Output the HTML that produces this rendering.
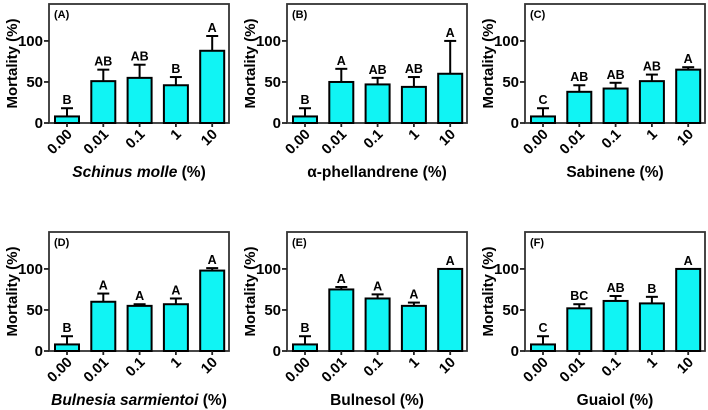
<!DOCTYPE html>
<html><head><meta charset="utf-8">
<style>
html,body{margin:0;padding:0;background:#fff;}
svg{display:block;font-family:"Liberation Sans",Arial,sans-serif;}
</style></head>
<body>
<svg id="fig" width="708" height="410" viewBox="0 0 708 410"></svg>
<script>
const categories = ["0.00","0.01","0.1","1","10"];
const yTicks = [0,50,100];
const yMax = 145;
const panelLabels = ["(A)","(B)","(C)","(D)","(E)","(F)"];
const xTitles = ["Schinus molle","α-phellandrene","Sabinene","Bulnesia sarmientoi","Bulnesol","Guaiol"];
const xItalic = [true,false,false,true,false,false];
const meansA = [8,51,55,46,88];
const errsA = [10,14,16,10,18];
const letA = ["B","AB","AB","B","A"];
const meansB = [8,50,47,44,60];
const errsB = [10,16,8,12,40];
const letB = ["B","A","AB","AB","A"];
const meansC = [8,38,42,51,65];
const errsC = [10,8,7,8,3];
const letC = ["C","AB","AB","AB","A"];
const meansD = [8,60,55,57,98];
const errsD = [10,10,2,7,3];
const letD = ["B","A","A","A","A"];
const meansE = [8,75,64,55,100];
const errsE = [10,3,5,4,0];
const letE = ["B","A","A","A","A"];
const meansF = [8,52,61,58,100];
const errsF = [10,5,6,8,0];
const letF = ["C","BC","AB","B","A"];

const means = [meansA,meansB,meansC,meansD,meansE,meansF];
const errs = [errsA,errsB,errsC,errsD,errsE,errsF];
const lets = [letA,letB,letC,letD,letE,letF];

const NS="http://www.w3.org/2000/svg";
const svg=document.getElementById('fig');
function mk(tag,attrs,parent){const e=document.createElementNS(NS,tag);for(const k in attrs)e.setAttribute(k,attrs[k]);(parent||svg).appendChild(e);return e;}

const lefts=[49,287,525];
const tops=[4,232];
const W=180,H=119;

for(let p=0;p<6;p++){
  const L=lefts[p%3], T=tops[Math.floor(p/3)], B=T+H;
  const g=mk('g',{});
  
  
  const y=v=>B-v/yMax*H;
  const x=i=>L+18+i*36.3;
  const fr=mk('rect',{x:L,y:T,width:W,height:H,fill:'none',stroke:'#333',"stroke-width":1.8},g);
  
  
  const pl=mk('text',{x:L+5,y:T+14,"font-size":11,"font-weight":"bold"},g);
  pl.textContent=panelLabels[p];
  
  
  yTicks.forEach(t=>{
    mk('line',{x1:L-5,x2:L,y1:y(t),y2:y(t),stroke:'#222',"stroke-width":1.8},g);
    const tl=mk('text',{x:L-6,y:y(t)+5,"font-size":15,"font-weight":"bold","text-anchor":"end"},g);
    tl.textContent=t;
    
    
  });
  const yt=mk('text',{x:0,y:0,"font-size":15,"font-weight":"bold","text-anchor":"middle",transform:`translate(${L-32},${T+H/2}) rotate(-90)`},g);
  yt.textContent='Mortality (%)';
  
  
  categories.forEach((c,i)=>{
    const cx=x(i), m=means[p][i], e=errs[p][i];
    if(e>0){
      mk('line',{x1:cx,x2:cx,y1:y(m),y2:y(m+e),stroke:'#000',"stroke-width":2},g);
      mk('line',{x1:cx-6,x2:cx+6,y1:y(m+e),y2:y(m+e),stroke:'#000',"stroke-width":2},g);
    }
    const bar=mk('rect',{x:cx-12,y:y(m),width:24,height:B-y(m),fill:'#10F4F4',stroke:'#000',"stroke-width":2},g);
    
    
    const lt=mk('text',{x:cx,y:y(m+e)-4,"font-size":12.5,"font-weight":"bold","text-anchor":"middle"},g);
    lt.textContent=lets[p][i];
    
    
    mk('line',{x1:cx,x2:cx,y1:B,y2:B+4,stroke:'#222',"stroke-width":1.8},g);
    const xl=mk('text',{x:0,y:0,"font-size":14.5,"font-weight":"bold","text-anchor":"end",transform:`translate(${cx+6},${B+12}) rotate(-45)`},g);
    xl.textContent=c;
    
    
  });
  const xt=mk('text',{x:L+W/2,y:B+54,"font-size":15.5,"font-weight":"bold","text-anchor":"middle"},g);
  if(xItalic[p]){const s=mk('tspan',{"font-style":"italic"},xt);s.textContent=xTitles[p];const s2=mk('tspan',{},xt);s2.textContent=' (%)';}
  else xt.textContent=xTitles[p]+' (%)';
  
  
}
</script>
</body></html>
